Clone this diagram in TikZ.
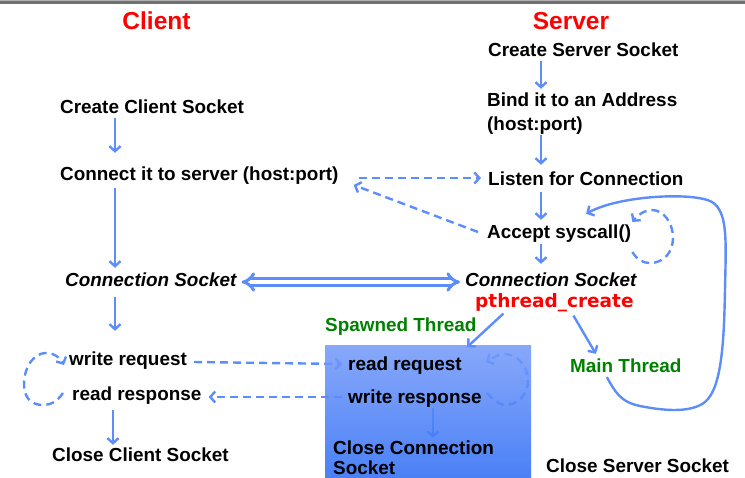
\documentclass[tikz,border=0pt]{standalone}
\usepackage{fontspec}
\setmainfont{Liberation Sans}
\newfontfamily\codefont{DejaVu Sans}
\usetikzlibrary{arrows.meta}

\definecolor{lb}{RGB}{92,141,250}
\definecolor{titlered}{RGB}{255,0,0}
\definecolor{thrgreen}{RGB}{0,128,0}
\definecolor{boxtop}{RGB}{119,156,249}
\definecolor{boxbot}{RGB}{49,111,245}
\definecolor{bardark}{RGB}{112,112,112}
\definecolor{barlight}{RGB}{176,176,176}

\tikzset{
  lbl/.style={inner sep=0pt, anchor=base west, text height=14pt, text depth=4pt,
    font=\fontsize{18.9}{22}\selectfont\bfseries},
  ilbl/.style={lbl, font=\fontsize{18.9}{22}\selectfont\bfseries\itshape},
  glbl/.style={lbl, text=thrgreen},
  title/.style={inner sep=0pt, anchor=base, text=titlered,
    font=\fontsize{24.5}{28}\selectfont\bfseries},
  arr/.style={draw=lb, line width=2.4pt, -{Straight Barb[length=5pt,width=11pt]}},
  darr/.style={arr, dash pattern=on 8pt off 5pt},
  dloop/.style={darr},
}

\begin{document}
\begin{tikzpicture}[x=1pt, y=-1pt]
\useasboundingbox (0,0) rectangle (745,478);

% frame bar along the top
\fill[barlight] (0,0) rectangle (745,1.2);
\fill[bardark] (0,1.2) rectangle (745,4.5);

% column titles
\node[title] (client) at (156.5,30) {Client};
\node[title] (server) at (571,30) {Server};

% server side
\node[lbl] (csrv)   at (488,57)  {Create Server Socket};
\node[lbl] (bind)   at (487,107) {Bind it to an Address};
\node[lbl] (hp)     at (487,131) {(host:port)};
\node[lbl] (listen) at (488,186) {Listen for Connection};
\node[lbl] (accept) at (487,239) {Accept syscall()};
\node[ilbl] (sconn) at (465,287) {Connection Socket};
\node[inner sep=0pt, anchor=base west, text=titlered,
      font=\fontsize{18.5}{22}\selectfont\codefont\bfseries] (pth) at (475,308) {pthread\_create};
\node[glbl] (spawn) at (325,332) {Spawned Thread};
\node[glbl] (main)  at (570,373) {Main Thread};
\node[lbl] (closesrv) at (546,472) {Close Server Socket};

% client side
\node[lbl] (ccli)    at (60,114) {Create Client Socket};
\node[lbl] (connect) at (60,181) {Connect it to server (host:port)};
\node[ilbl] (cconn)  at (65,287) {Connection Socket};
\node[lbl] (wreq)    at (69,366) {write request};
\node[lbl] (rresp)   at (72,401) {read response};
\node[lbl] (closecli) at (52,462) {Close Client Socket};

% spawned-thread labels (placed first so connectors can reach them)
\node[lbl] (rreq)  at (348,371) {read request};
\node[lbl] (wresp) at (348,404) {write response};
\node[lbl] (cc1)   at (333,454) {Close Connection};

% server flow
\coordinate (sx) at (541,0);
\draw[arr, shorten <=0pt, shorten >=4pt] (csrv.south -| sx) -- (bind.north -| sx);
\draw[arr, shorten <=0pt, shorten >=7pt] (hp.south -| sx) -- (listen.north -| sx);
\draw[arr, shorten <=2pt, shorten >=5pt] (listen.south -| sx) -- (accept.north -| sx);
\draw[arr, shorten <=1pt, shorten >=9pt] (accept.south -| sx) -- (sconn.north -| sx);

% client flow
\coordinate (cx) at (115,0);
\coordinate (cx2) at (113,0);
\draw[arr, shorten <=0pt, shorten >=14pt] (ccli.south -| cx) -- (connect.north -| cx);
\draw[arr, shorten <=3pt, shorten >=5pt] (connect.south -| cx) -- (cconn.north -| cx);
\draw[arr, shorten <=6pt, shorten >=21pt] (cconn.south -| cx) -- (wreq.north -| cx);
\draw[arr, shorten <=5pt, shorten >=3pt] (rresp.south -| cx2) -- (closecli.north -| cx2);

% handshake
\draw[darr] ([shift={(20,2)}]connect.east) -- ([shift={(-7,-3)}]listen.west);
\draw[darr] ([shift={(-9,-2)}]accept.west) -- ([shift={(15,9)}]connect.east);

% connection between the two sockets
\draw[draw=lb, line width=3pt, double=white, double distance=3.2pt,
      {Implies}-{Implies}, shorten <=5pt, shorten >=5pt] (cconn.east) -- (sconn.west);

% request / response exchange
\draw[darr] ([shift={(7,1)}]wreq.east) -- ([shift={(-6,-2)}]rreq.west);
\draw[darr] ([shift={(-6,-2)}]wresp.west) -- ([shift={(7,1)}]rresp.east);

% client request loop
\coordinate (cl1) at ([shift={(-9,-3)}]rresp.west);
\coordinate (cl2) at ([shift={(-5,4)}]wreq.west);
\draw[dloop] (cl1) .. controls +(-6,9) and +(7,0) .. (43,405)
  .. controls (30,405) and (24,396) .. (24,385)
  .. controls (24,365) and (35,353) .. (46,353)
  .. controls (55,353) and (61,359) .. (cl2);

% accept loop
\coordinate (al1) at ([shift={(1,18)}]accept.east);
\coordinate (al2) at ([shift={(1,-12)}]accept.east);
\draw[dloop] (al1) .. controls +(5,8) and +(-7,0) .. (650,263)
  .. controls (664,263) and (673,252) .. (673,238)
  .. controls (673,222) and (663,210) .. (652,210)
  .. controls (644,210) and (637,216) .. (al2);

% spawned-thread internals, seen through the thread box
\coordinate (tl1) at ([shift={(5,-6)}]wresp.east);
\coordinate (tl2) at ([shift={(24,-4)}]rreq.east);
\draw[dloop] (tl1) .. controls +(5,5) and +(-6,0) .. (505,405)
  .. controls (518,405) and (528,394) .. (528,381)
  .. controls (528,366) and (517,354) .. (505,354)
  .. controls (497,354) and (490,360) .. (tl2);
\draw[arr, shorten <=0pt, shorten >=2pt] ([shift={(18,0)}]wresp.south) -- ([shift={(18,0)}]wresp.south |- cc1.north);

% spawned thread box
\node[inner sep=0pt, anchor=north west, minimum width=206pt, minimum height=134pt,
      top color=boxtop, bottom color=boxbot, fill opacity=0.88, draw=none] (thr) at (325,345) {};

% labels drawn over the box
\node[lbl] at (rreq.base west) {read request};
\node[lbl] at (wresp.base west) {write response};
\node[lbl] at (cc1.base west) {Close Connection};
\node[lbl] (cc2) at (333,475) {Socket};

% thread creation
\draw[arr] ([shift={(-51,1)}]pth.south) -- ([shift={(39,2)}]thr.north);
\draw[arr] ([shift={(19,3)}]pth.south) -- ([shift={(-30,-5)}]main.north);

% main thread returns to accept
\coordinate (ml1) at ([shift={(-19,0)}]main.south);
\coordinate (ml2) at ([shift={(27,-11)}]accept.north);
\draw[arr] (ml1) .. controls +(8,14) and +(-20,-4) .. (640,406)
  .. controls (660,410) and (690,414) .. (705,402)
  .. controls (722,388) and (724,340) .. (725,290)
  .. controls (726,240) and (728,212) .. (712,202)
  .. controls (695,192) and (620,195) .. (ml2);
\end{tikzpicture}
\end{document}
